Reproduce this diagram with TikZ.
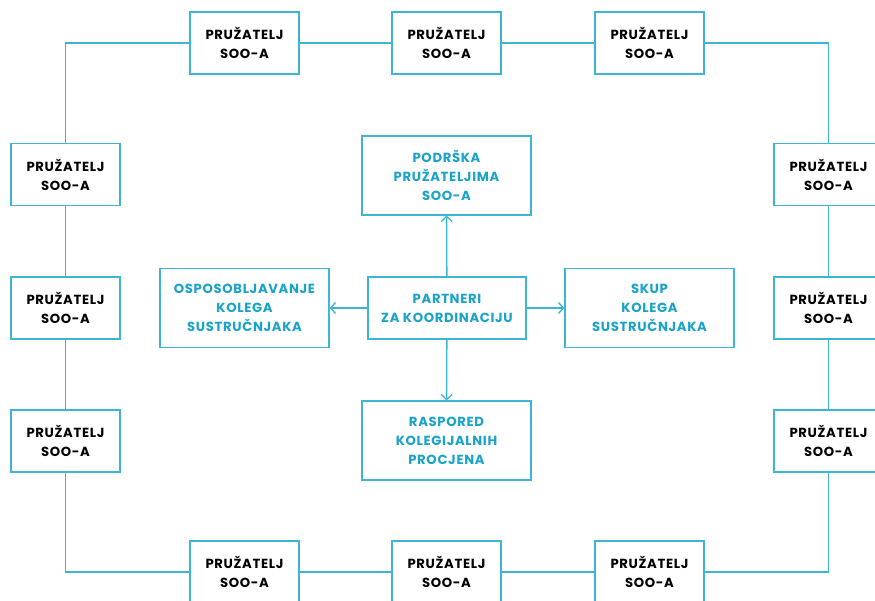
\documentclass[tikz,border=0pt]{standalone}
\usepackage{fontspec}
\setmainfont{Poppins}[LetterSpace=5]
\usetikzlibrary{arrows.meta}
\definecolor{ln}{HTML}{3DB6D6}
\definecolor{tx}{HTML}{1AA3C8}
\begin{document}
\begin{tikzpicture}[x=1pt,y=-1pt,
  base/.style={draw=ln, line width=1.3pt, fill=white, align=center, inner sep=0pt,
    font=\bfseries\fontsize{13.2}{19}\selectfont},
  prov/.style={base, minimum width=109pt, minimum height=62pt, text=black},
  cbox/.style={base, minimum width=169pt, minimum height=79pt, text=tx},
  conn/.style={draw=ln, line width=1.3pt},
  arr/.style={conn, -{Straight Barb[length=5pt,width=11pt]}}]
\useasboundingbox (0,0) rectangle (875,601);
\clip (0,0) rectangle (875,601);
% corners
\coordinate (ctl) at (65.5,43);
\coordinate (ctr) at (828.5,43);
\coordinate (cbl) at (65.5,572);
\coordinate (cbr) at (828.5,572);
% provider boxes
\node[prov] (t1) at (244.5,43) {PRUŽATELJ\\SOO-A};
\node[prov] (t2) at (446.5,43) {PRUŽATELJ\\SOO-A};
\node[prov] (t3) at (649.5,43) {PRUŽATELJ\\SOO-A};
\node[prov] (l1) at (65.5,174.5) {PRUŽATELJ\\SOO-A};
\node[prov] (l2) at (65.5,308) {PRUŽATELJ\\SOO-A};
\node[prov] (l3) at (65.5,441) {PRUŽATELJ\\SOO-A};
\node[prov] (r1) at (828.5,174.5) {PRUŽATELJ\\SOO-A};
\node[prov] (r2) at (828.5,308) {PRUŽATELJ\\SOO-A};
\node[prov] (r3) at (828.5,441) {PRUŽATELJ\\SOO-A};
\node[prov] (b1) at (244.5,572) {PRUŽATELJ\\SOO-A};
\node[prov] (b2) at (446.5,572) {PRUŽATELJ\\SOO-A};
\node[prov] (b3) at (649.5,572) {PRUŽATELJ\\SOO-A};
% ring connectors
\draw[conn] (l1) -- (ctl) -- (t1);
\draw[conn] (t1) -- (t2);
\draw[conn] (t2) -- (t3);
\draw[conn] (t3) -- (ctr) -- (r1);
\draw[conn] (r1) -- (r2);
\draw[conn] (r2) -- (r3);
\draw[conn] (r3) -- (cbr) -- (b3);
\draw[conn] (b3) -- (b2);
\draw[conn] (b2) -- (b1);
\draw[conn] (b1) -- (cbl) -- (l3);
\draw[conn] (l3) -- (l2);
\draw[conn] (l2) -- (l1);
% centre
\node[cbox, minimum width=158pt, minimum height=62pt] (p) at (447,308) {PARTNERI\\ZA KOORDINACIJU};
\node[cbox] (pod) at (446.5,175.5) {PODRŠKA\\PRUŽATELJIMA\\SOO-A};
\node[cbox] (osp) at (244.5,308) {OSPOSOBLJAVANJE\\KOLEGA\\SUSTRUČNJAKA};
\node[cbox] (skup) at (649.5,308) {SKUP\\KOLEGA\\SUSTRUČNJAKA};
\node[cbox] (ras) at (446.5,440.5) {RASPORED\\KOLEGIJALNIH\\PROCJENA};
\draw[arr] (p) -- (pod);
\draw[arr] (p) -- (osp);
\draw[arr] (p) -- (skup);
\draw[arr] (p) -- (ras);
\end{tikzpicture}
\end{document}
